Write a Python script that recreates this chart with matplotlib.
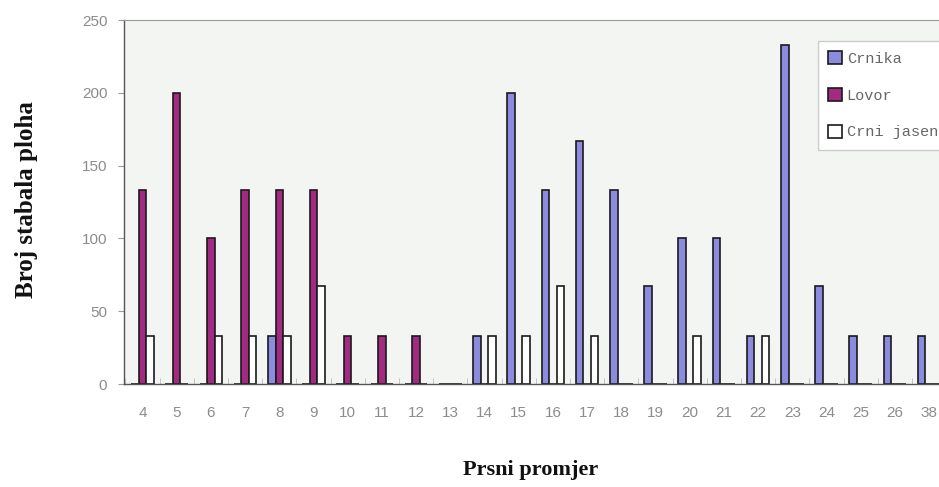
import numpy as np
import matplotlib
matplotlib.use("Agg")
import matplotlib.pyplot as plt

# Diameter classes and trees per plot
categories = ["4", "5", "6", "7", "8", "9", "10", "11", "12", "13", "14", "15",
              "16", "17", "18", "19", "20", "21", "22", "23", "24", "25", "26", "38"]
crnika = [0, 0, 0, 0, 33, 0, 0, 0, 0, 0, 33, 200,
          133, 167, 133, 67, 100, 100, 33, 233, 67, 33, 33, 33]
lovor = [133, 200, 100, 133, 133, 133, 33, 33, 33, 0, 0, 0,
         0, 0, 0, 0, 0, 0, 0, 0, 0, 0, 0, 0]
crni_jasen = [33, 0, 33, 33, 33, 67, 0, 0, 0, 0, 33, 33,
              67, 33, 0, 0, 33, 0, 33, 0, 0, 0, 0, 0]

W, H = 939, 487
fig = plt.figure(figsize=(W / 100, H / 100), dpi=100)
fig.patch.set_facecolor("white")

# plot area runs off the right edge, as in the scanned original
left_px, right_px, top_px, bot_px = 124, 960, 20, 384
ax = fig.add_axes([left_px / W, 1 - bot_px / H,
                   (right_px - left_px) / W, (bot_px - top_px) / H])
ax.set_facecolor("#f3f5f3")

x = np.arange(len(categories))
bw = 0.22
ax.bar(x - bw, crnika, bw, color="#8b8be0", edgecolor="#1a1a1a", linewidth=1.2, label="Crnika")
ax.bar(x, lovor, bw, color="#a32a82", edgecolor="#1a1a1a", linewidth=1.2, label="Lovor")
ax.bar(x + bw, crni_jasen, bw, color="white", edgecolor="#1a1a1a", linewidth=1.2, label="Crni jasen")

ax.set_ylim(0, 250)
ax.set_xlim(-0.54, (right_px - 142.5) / 34.2)
ax.set_yticks([0, 50, 100, 150, 200, 250])
ax.set_xticks(x)
ax.set_xticklabels(categories)
ax.set_xticks(np.arange(len(categories) + 1) - 0.5, minor=True)

ax.tick_params(axis="y", colors="#999999", labelsize=11, length=4, width=0.8, pad=8,
               labelcolor="#8c8c8c")
ax.tick_params(axis="x", which="major", length=0, labelsize=11, pad=16, labelcolor="#8c8c8c")
ax.tick_params(axis="x", which="minor", length=4, direction="in", color="#bbbbbb")
for lbl in ax.get_xticklabels() + ax.get_yticklabels():
    lbl.set_family("Liberation Sans")

for side in ["left", "bottom"]:
    ax.spines[side].set_color("#555555")
    ax.spines[side].set_linewidth(1.0)
ax.spines["top"].set_color("#999999")
ax.spines["right"].set_visible(False)

fig.text(27 / W, 1 - 200 / H, "Broj stabala ploha", rotation=90, ha="center", va="center",
         family="Liberation Serif", fontweight="bold", fontsize=18, color="#111111")
fig.text(531 / W, 1 - 470 / H, "Prsni promjer", ha="center", va="center",
         family="Liberation Serif", fontweight="bold", fontsize=16, color="#111111")

leg = fig.legend(loc="upper left", bbox_to_anchor=(810 / W, 1 - 33 / H),
                 prop={"family": "Liberation Mono", "size": 11},
                 handlelength=0.9, handleheight=0.9, handletextpad=0.3,
                 labelspacing=1.45, borderpad=0.7, fancybox=False,
                 edgecolor="#cccccc", facecolor="white", framealpha=1)
for t in leg.get_texts():
    t.set_color("#666666")

fig.savefig("out.png", dpi=100)
